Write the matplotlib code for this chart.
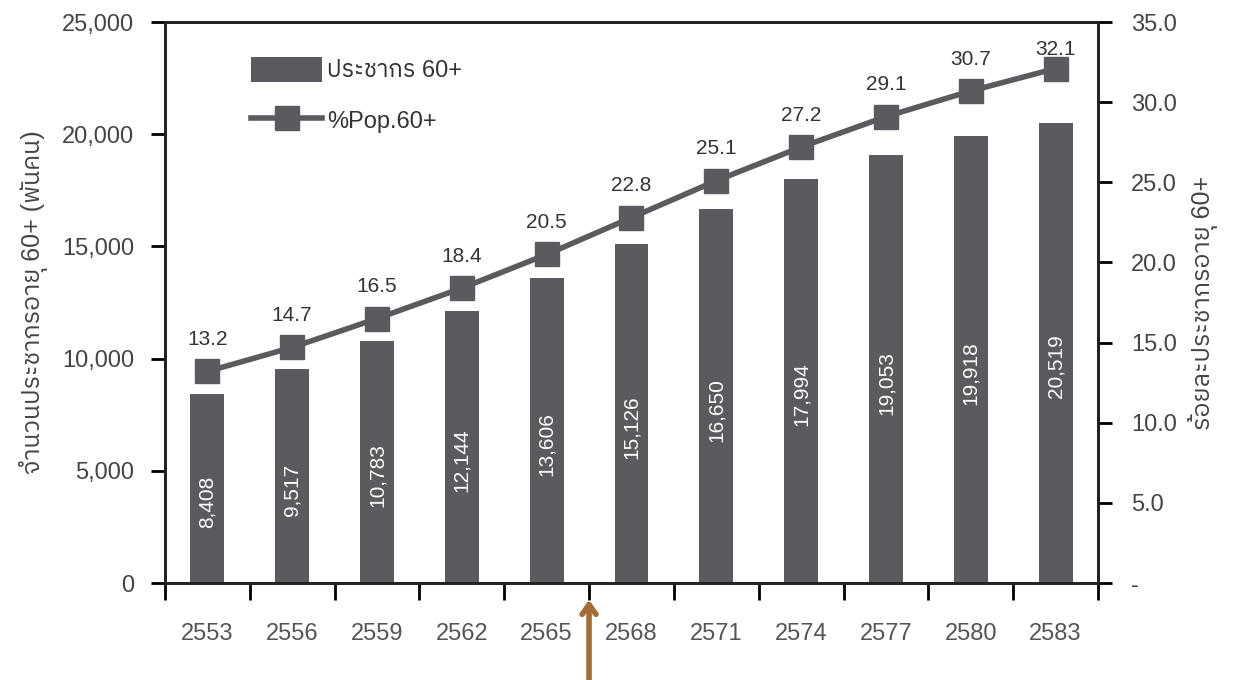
import matplotlib.pyplot as plt
from matplotlib import font_manager
import numpy as np

years = ['2553', '2556', '2559', '2562', '2565', '2568', '2571', '2574', '2577', '2580', '2583']
pop60 = [8408, 9517, 10783, 12144, 13606, 15126, 16650, 17994, 19053, 19918, 20519]
pct60 = [13.2, 14.7, 16.5, 18.4, 20.5, 22.8, 25.1, 27.2, 29.1, 30.7, 32.1]

# หาฟอนต์ที่มีอักษรไทย
thai = [f.name for f in font_manager.fontManager.ttflist if 'Thai' in f.name or 'Loma' in f.name or 'Garuda' in f.name]
plt.rcParams['font.family'] = ['Liberation Sans'] + sorted(set(thai)) + ['DejaVu Sans']

bar_c = '#5b5b5f'
txt_c = '#444444'

fig = plt.figure(figsize=(12.4, 6.8), dpi=100)
ax = fig.add_axes([0.133, 0.1426, 0.7525, 0.825])
ax2 = ax.twinx()

x = np.arange(len(years))
bars = ax.bar(x, pop60, width=0.4, color=bar_c, label='ประชากร 60+', zorder=2)
ax.set_xlim(-0.5, len(years) - 0.5)
ax.set_ylim(0, 25000)
ax.set_yticks(range(0, 25001, 5000))
ax.set_yticklabels([f'{v:,}' for v in range(0, 25001, 5000)])

for xi, v in zip(x, pop60):
    ax.text(xi, v / 2 - 600, f'{v:,}', rotation=90, ha='center', va='center',
            color='white', fontsize=15)

line, = ax2.plot(x, pct60, color=bar_c, lw=4, marker='s', markersize=17,
                 label='%Pop.60+', zorder=3)
ax2.set_ylim(0, 35)
ax2.set_yticks(range(0, 36, 5))
ax2.set_yticklabels(['-'] + [f'{v:.1f}' for v in range(5, 36, 5)])
for xi, p in zip(x, pct60):
    off = 23 if p < 32 else 14
    ax2.annotate(f'{p:.1f}', (xi, p), xytext=(0, off), textcoords='offset points',
                 ha='center', va='center', fontsize=15, color='#333333')

# ticks
ax.set_xticks(x)
ax.set_xticklabels(years)
ax.set_xticks(np.arange(-0.5, len(years)), minor=True)
ax.tick_params(axis='x', which='major', length=0, pad=29, labelsize=17, labelcolor='#555555')
ax.tick_params(axis='x', which='minor', length=12, width=2, direction='out')
ax.tick_params(axis='y', length=10, width=2, labelsize=17, labelcolor=txt_c, pad=12)
ax2.tick_params(axis='y', length=10, width=2, labelsize=17, labelcolor=txt_c, pad=14)

for a in (ax, ax2):
    for s in a.spines.values():
        s.set_linewidth(2)
        s.set_color('#222222')

ax.set_ylabel('จำนวนประชากรอายุ 60+ (พันคน)', fontsize=18, color=txt_c, labelpad=10)
ax2.set_ylabel('ร้อยละประชากรอายุ 60+', fontsize=18, color=txt_c, rotation=90, labelpad=8)

ax.legend(handles=[bars, line], loc='upper left', bbox_to_anchor=(0.07, 0.975),
          frameon=False, fontsize=17, handlelength=3.0, handleheight=1.2,
          labelspacing=1.1, handletextpad=0.2, labelcolor='#333333')

# ลูกศรชี้ปีปัจจุบัน
ax.annotate('', xy=(4.5, -0.025), xycoords=('data', 'axes fraction'),
            xytext=(4.5, -0.2), textcoords=('data', 'axes fraction'),
            arrowprops=dict(arrowstyle='->,head_width=0.5,head_length=0.7',
                            color='#a36b35', lw=4), annotation_clip=False)

plt.savefig('out.png', dpi=100)
